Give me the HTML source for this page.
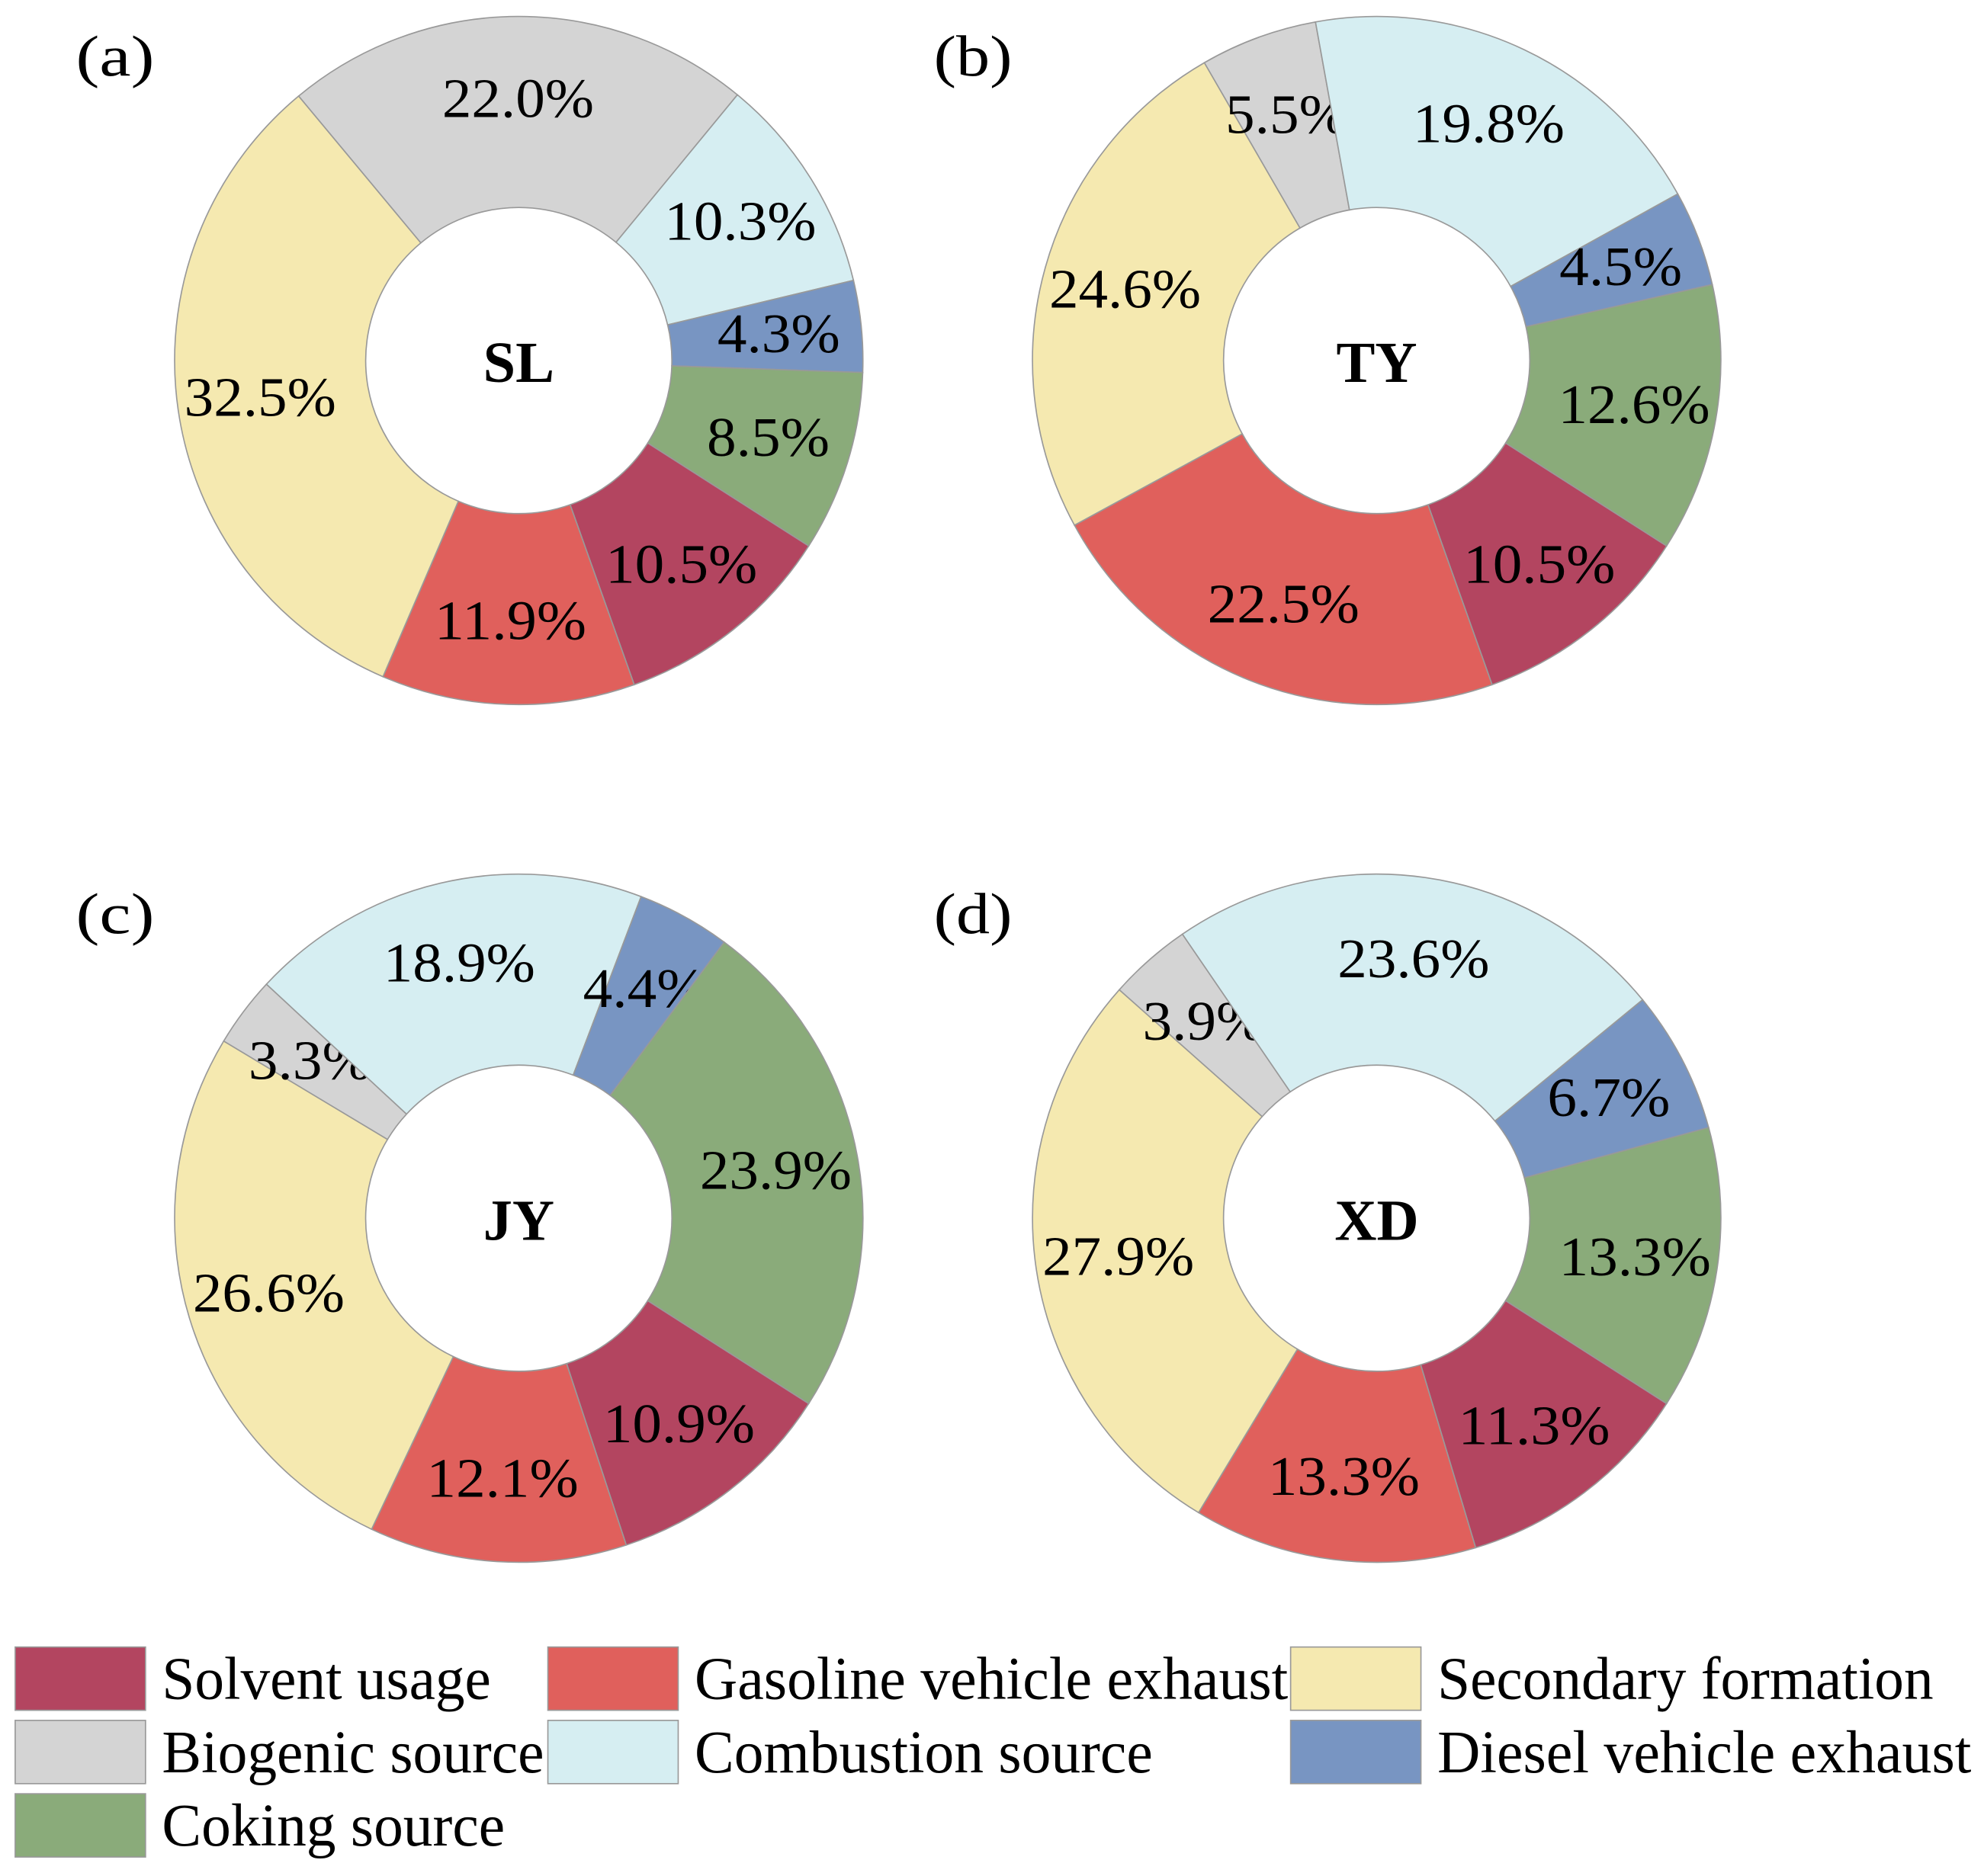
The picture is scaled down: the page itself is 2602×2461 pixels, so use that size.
<!DOCTYPE html>
<html><head><meta charset="utf-8"><style>
html,body{margin:0;padding:0;background:#fff;}
svg{display:block;}
text{font-family:"Liberation Serif","Times New Roman",Times,serif;fill:#000;}
</style></head><body>
<svg id="chart" width="2602" height="2461" viewBox="0 0 1568 1483" font-family="Liberation Serif, Times New Roman, serif" xmlns="http://www.w3.org/2000/svg"></svg>
<script>
const categories = ["Solvent usage","Gasoline vehicle exhaust","Secondary formation","Biogenic source","Combustion source","Diesel vehicle exhaust","Coking source"];
const colors = ["#b34560","#e0605c","#f5e9b0","#d4d4d4","#d6eef2","#7895c2","#8aab7a"];
const sites = ["SL","TY","JY","XD"];
const panelLabels = ["(a)","(b)","(c)","(d)"];
const valuesSL = [10.5,11.9,32.5,22.0,10.3,4.3,8.5];
const valuesTY = [10.5,22.5,24.6,5.5,19.8,4.5,12.6];
const valuesJY = [10.9,12.1,26.6,3.3,18.9,4.4,23.9];
const valuesXD = [11.3,13.3,27.9,3.9,23.6,6.7,13.3];
const allValues = [valuesSL,valuesTY,valuesJY,valuesXD];

const NS="http://www.w3.org/2000/svg";
const svg=document.getElementById('chart');
const centers=[[410,285],[1088,285],[410,963],[1088,963]];
const R=272, r=121, startDeg=122.6;
function pt(cx,cy,rad,deg){const a=deg*Math.PI/180;return [cx+rad*Math.sin(a),cy-rad*Math.cos(a)];}
function mk(tag,attrs){const e=document.createElementNS(NS,tag);for(const k in attrs)e.setAttribute(k,attrs[k]);return e;}
const FF="Liberation Serif, Times New Roman, serif";

allValues.forEach((vals,pi)=>{
  const [cx,cy]=centers[pi];
  const g=mk('g',{});
  
  
  svg.appendChild(g);
  const total=vals.reduce((a,b)=>a+b,0);
  let ang=startDeg;
  vals.forEach((v,i)=>{
    const sweep=v/total*360;
    const a0=ang,a1=ang+sweep;
    const p0=pt(cx,cy,R,a0),p1=pt(cx,cy,R,a1),q1=pt(cx,cy,r,a1),q0=pt(cx,cy,r,a0);
    const large=sweep>180?1:0;
    const d=`M${p0[0]},${p0[1]} A${R},${R} 0 ${large} 1 ${p1[0]},${p1[1]} L${q1[0]},${q1[1]} A${r},${r} 0 ${large} 0 ${q0[0]},${q0[1]} Z`;
    const p=mk('path',{d:d,fill:colors[i],stroke:'#999','stroke-width':1});
    
    
    g.appendChild(p);
    const mid=(a0+a1)/2;
    const lp=pt(cx,cy,(R+r)/2+10,mid);
    const txt=v.toFixed(1)+'%';
    const t=mk('text',{x:lp[0],y:lp[1]+14,'text-anchor':'middle','font-size':44,'font-family':FF,textLength:txt.length>4?120:97,lengthAdjust:'spacingAndGlyphs'});
    t.textContent=txt;
    
    
    g.appendChild(t);
    ang=a1;
  });
  const c=mk('text',{x:cx,y:cy+17,'text-anchor':'middle','font-size':46,'font-weight':'bold','font-family':FF});
  c.textContent=sites[pi];
  
  
  g.appendChild(c);
  const pl=mk('text',{x:cx-350,y:cy-225,'font-size':46,'font-family':FF,textLength:62,lengthAdjust:'spacingAndGlyphs'});
  pl.textContent=panelLabels[pi];
  
  
  svg.appendChild(pl);
});

const legendPos=[[12,1302],[433,1302],[1020,1302],[12,1360],[433,1360],[1020,1360],[12,1418]];
const legendOrder=[0,1,2,3,4,5,6];
const legendWidths=[260,469,392,302,362,422,271];
const lg=mk('g',{});


svg.appendChild(lg);
legendOrder.forEach((ci,k)=>{
  const [x,y]=legendPos[k];
  const rc=mk('rect',{x:x,y:y,width:103,height:50,fill:colors[ci],stroke:'#999','stroke-width':1});
  
  
  lg.appendChild(rc);
  const t=mk('text',{x:x+116,y:y+41,'font-size':48,'font-family':FF,textLength:legendWidths[k],lengthAdjust:'spacingAndGlyphs'});
  t.textContent=categories[ci];
  
  
  lg.appendChild(t);
});
</script>
</body></html>
